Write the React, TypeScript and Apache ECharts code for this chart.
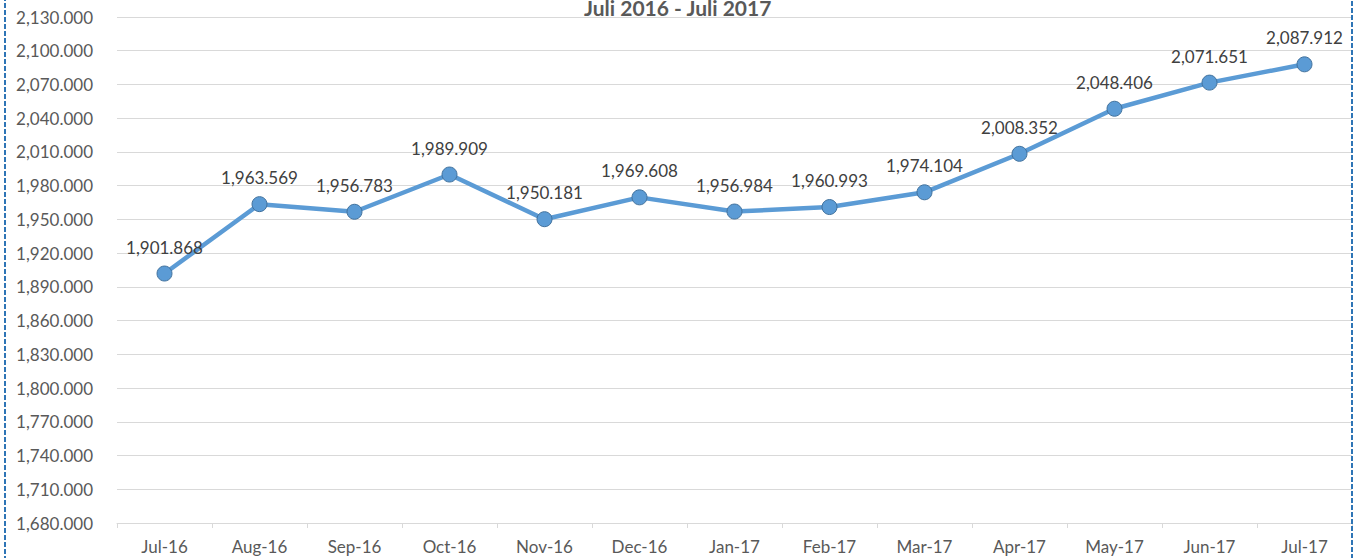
import React, { useEffect, useRef } from "react";
import * as echarts from "echarts";

const categories = ["Jul-16","Aug-16","Sep-16","Oct-16","Nov-16","Dec-16","Jan-17","Feb-17","Mar-17","Apr-17","May-17","Jun-17","Jul-17"];
const values = [1901.868,1963.569,1956.783,1989.909,1950.181,1969.608,1956.984,1960.993,1974.104,2008.352,2048.406,2071.651,2087.912];
const titleText = "Juli 2016 - Juli 2017";
const yMin = 1680;
const yMax = 2130;
const yStep = 30;

const fmt = (v: number) =>
  v.toLocaleString("en-US", { minimumFractionDigits: 3, maximumFractionDigits: 3 });

export default function App() {
  const ref = useRef<HTMLDivElement>(null);
  useEffect(() => {
    document.body.style.margin = "0";
    const chart = echarts.init(ref.current!, null, { renderer: "svg" });
    const font = "Lato, 'Open Sans', sans-serif";
    chart.setOption({
      animation: false,
      backgroundColor: "#ffffff",
      textStyle: { fontFamily: font },
      grid: { left: 117, right: 4, top: 17, bottom: 35, containLabel: false },
      graphic: [
        {
          type: "rect",
          shape: { x: 5, y: -10, width: 1347, height: 580 },
          style: { fill: "none", stroke: "#2E75B6", lineWidth: 2, lineDash: [5, 2] },
          z: 100,
        },
        {
          type: "text",
          left: "center",
          top: -3,
          style: {
            text: titleText,
            fontFamily: font,
            fontWeight: "bold",
            fontSize: 21,
            fill: "#595959",
          },
          z: 100,
        },
      ],
      xAxis: {
        type: "category",
        data: categories,
        boundaryGap: true,
        axisLine: { lineStyle: { color: "#D9D9D9", width: 1 } },
        axisTick: { show: true, length: 5, lineStyle: { color: "#D9D9D9" } },
        axisLabel: { color: "#595959", fontSize: 17, margin: 15, fontFamily: font },
        splitLine: { show: false },
      },
      yAxis: {
        type: "value",
        min: yMin,
        max: yMax,
        interval: yStep,
        axisLine: { show: false },
        axisTick: { show: false },
        axisLabel: { color: "#595959", fontSize: 17, margin: 24, fontFamily: font, formatter: (v: number) => fmt(v) },
        splitLine: { lineStyle: { color: "#D9D9D9", width: 1 } },
      },
      series: [
        {
          type: "line",
          data: values,
          symbol: "circle",
          symbolSize: 15,
          lineStyle: { color: "#5B9BD5", width: 4.5 },
          itemStyle: { color: "#5B9BD5", borderColor: "#41719C", borderWidth: 1 },
          label: {
            show: true,
            position: "top",
            distance: 10,
            color: "#404040",
            fontSize: 17,
            fontFamily: font,
            formatter: (p: any) => fmt(p.value),
          },
        },
      ],
    });
    return () => chart.dispose();
  }, []);
  return <div ref={ref} style={{ position: "fixed", left: 0, top: 0, width: 1356, height: 558 }} />;
}
